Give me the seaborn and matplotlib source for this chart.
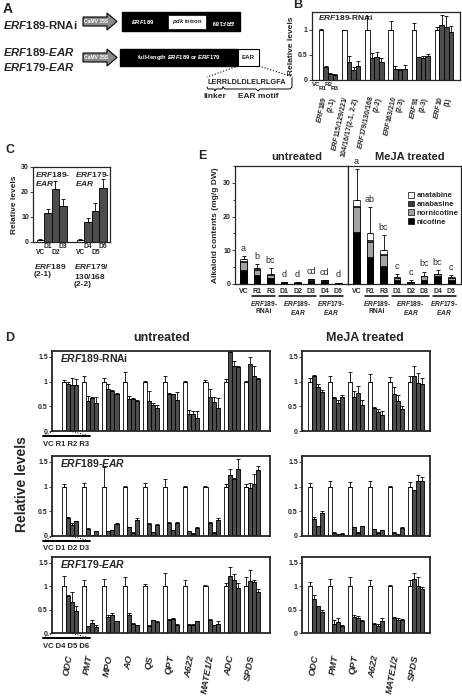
import numpy as np
import pandas as pd
import matplotlib
matplotlib.use("Agg")
import matplotlib.pyplot as plt
import seaborn as sns
from matplotlib.patches import Rectangle, Polygon, Patch

# ---------------- data ----------------
# B: ERF189-RNAi, expression of clade genes
b_genes = ["$ERF189$\n(2-1)", "$ERF115/129/221/$\n$104/16/17$(2-1, 2-2)", "$ERF179/130/168$\n(2-2)",
           "$ERF163/210$\n(2-3)", "$ERF91$\n(2-3)", "$ERF10$\n(1)"]
b_vals = [[1.0, 0.25, 0.12, 0.10], [1.0, 0.35, 0.20, 0.27], [1.0, 0.43, 0.45, 0.36],
          [1.0, 0.22, 0.20, 0.22], [1.0, 0.45, 0.44, 0.47], [1.0, 1.10, 1.05, 0.95]]
b_errs = [[0.02, 0.03, 0.01, 0.01], [0.0, 0.12, 0.05, 0.10], [0.28, 0.10, 0.10, 0.08],
          [0.17, 0.05, 0.02, 0.08], [0.13, 0.01, 0.03, 0.05], [0.05, 0.20, 0.22, 0.12]]

# C: EAR lines, transgene levels
c_groups = ["ERF189", "ERF179"]
c_vals = [[1.0, 11.5, 21.0, 14.5], [1.0, 8.0, 12.5, 21.5]]
c_errs = [[0.2, 1.5, 3.5, 2.5], [0.2, 1.5, 3.0, 3.5]]

# D: structural genes
genes_u = ["ODC", "PMT", "MPO", "AO", "QS", "QPT", "A622", "MATE1/2", "ADC", "SPDS"]
genes_m = ["ODC", "PMT", "QPT", "A622", "MATE1/2", "SPDS"]

rnai_u = [[1, 0.95, 0.93, 0.93], [1, 0.60, 0.67, 0.57], [1, 0.85, 0.80, 0.75], [1, 0.65, 0.65, 0.60],
          [1, 0.60, 0.52, 0.47], [1, 0.75, 0.74, 0.63], [1, 0.35, 0.35, 0.26], [1, 0.68, 0.58, 0.46],
          [1, 1.60, 1.32, 1.30], [1, 1.35, 1.12, 1.05]]
rnai_u_err = [[0.03, 0.05, 0.15, 0.12], [0.12, 0.10, 0.02, 0.12], [0.07, 0.10, 0.03, 0.01],
              [0.20, 0.05, 0.02, 0.03], [0.02, 0.20, 0.05, 0.05], [0.12, 0.02, 0.01, 0.15],
              [0.02, 0.08, 0.05, 0.15], [0.03, 0.17, 0.10, 0.20], [0.05, 0.02, 0.10, 0.01],
              [0.02, 0.15, 0.20, 0.02]]
rnai_m = [[1, 1.12, 0.90, 0.78], [1, 0.67, 0.57, 0.68], [1, 0.68, 0.77, 0.53],
          [1, 0.47, 0.38, 0.33], [1, 0.75, 0.60, 0.44], [1, 1.12, 0.97, 0.95]]
rnai_m_err = [[0.07, 0.02, 0.05, 0.05], [0.12, 0.02, 0.05, 0.05], [0.20, 0.12, 0.15, 0.10],
              [0.15, 0.01, 0.07, 0.08], [0.10, 0.15, 0.12, 0.07], [0.12, 0.20, 0.20, 0.12]]

ear189_u = [[1, 0.37, 0.22, 0.30], [1, 0.15, 0.02, 0.10], [1, 0.10, 0.12, 0.25], [1, 0.18, 0.07, 0.33],
            [1, 0.25, 0.08, 0.23], [1, 0.27, 0.12, 0.27], [1, 0.10, 0.05, 0.17], [1, 0.27, 0.07, 0.32],
            [1, 1.23, 1.16, 1.35], [1, 0.98, 1.05, 1.33]]
ear189_u_err = [[0.05, 0.01, 0.05, 0.01], [0.08, 0.01, 0.01, 0.01], [0.40, 0.01, 0.01, 0.01],
                [0.02, 0.01, 0.01, 0.03], [0.07, 0.01, 0.01, 0.01], [0.15, 0.01, 0.01, 0.01],
                [0.02, 0.01, 0.01, 0.01], [0.01, 0.01, 0.01, 0.04], [0.05, 0.12, 0.02, 0.20],
                [0.05, 0.10, 0.20, 0.08]]
ear189_m = [[1, 0.35, 0.20, 0.46], [1, 0.07, 0.03, 0.05], [1, 0.18, 0.07, 0.20],
            [1, 0.14, 0.07, 0.12], [1, 0.07, 0.03, 0.17], [1, 0.93, 1.12, 1.12]]
ear189_m_err = [[0.07, 0.04, 0.01, 0.04], [0.12, 0.01, 0.01, 0.01], [0.10, 0.01, 0.01, 0.01],
                [0.12, 0.01, 0.01, 0.01], [0.01, 0.01, 0.01, 0.01], [0.10, 0.01, 0.12, 0.08]]

ear179_u = [[1, 0.78, 0.67, 0.47], [1, 0.14, 0.22, 0.12], [1, 0.35, 0.38, 0.25], [1, 0.38, 0.20, 0.17],
            [1, 0.15, 0.27, 0.23], [1, 0.28, 0.30, 0.18], [1, 0.18, 0.18, 0.25], [1, 0.27, 0.17, 0.20],
            [1, 1.22, 1.13, 0.95], [1, 1.10, 1.08, 0.87]]
ear179_u_err = [[0.22, 0.03, 0.20, 0.10], [0.12, 0.01, 0.05, 0.05], [0.15, 0.03, 0.05, 0.01],
                [0.20, 0.05, 0.01, 0.01], [0.05, 0.01, 0.01, 0.03], [0.28, 0.01, 0.02, 0.01],
                [0.12, 0.01, 0.01, 0.01], [0.02, 0.03, 0.01, 0.05], [0.07, 0.18, 0.12, 0.12],
                [0.20, 0.25, 0.05, 0.07]]
ear179_m = [[1, 0.73, 0.57, 0.44], [1, 0.20, 0.23, 0.14], [1, 0.35, 0.33, 0.26],
            [1, 0.20, 0.15, 0.26], [1, 0.31, 0.28, 0.28], [1, 1.15, 1.00, 0.94]]
ear179_m_err = [[0.08, 0.07, 0.01, 0.04], [0.15, 0.07, 0.08, 0.03], [0.20, 0.03, 0.03, 0.02],
                [0.13, 0.01, 0.05, 0.05], [0.02, 0.03, 0.04, 0.01], [0.13, 0.13, 0.20, 0.05]]

# E: alkaloid contents (mg/g DW)
e_lines = ["VC", "R1", "R3", "D1", "D2", "D3", "D4", "D6"]
u_nicotine = [4.3, 2.8, 1.8, 0.5, 0.3, 0.8, 0.8, 0.3]
u_nornicotine = [2.3, 1.5, 0.8, 0.1, 0.1, 0.5, 0.3, 0.1]
u_anabasine = [0.2, 0.2, 0.1, 0.05, 0.02, 0.1, 0.05, 0.02]
u_anatabine = [0.5, 0.3, 0.4, 0.05, 0.03, 0.1, 0.05, 0.02]
u_err = [1.0, 1.1, 1.7, 0.0, 0.0, 0.0, 0.0, 0.0]
u_letters = ["a", "b", "bc", "d", "d", "cd", "cd", "d"]
m_nicotine = [15.5, 8.0, 5.2, 1.2, 0.4, 1.3, 2.3, 1.2]
m_nornicotine = [7.2, 4.5, 3.3, 0.6, 0.2, 1.0, 0.6, 0.6]
m_anabasine = [0.5, 0.5, 0.3, 0.1, 0.0, 0.1, 0.1, 0.1]
m_anatabine = [1.8, 2.0, 1.4, 0.1, 0.05, 0.1, 0.1, 0.1]
m_err = [9.0, 7.7, 4.3, 1.0, 0.4, 1.2, 1.1, 0.7]
m_letters = ["a", "ab", "bc", "c", "c", "bc", "bc", "c"]

# ---------------- style ----------------
sns.set_style("ticks")
plt.rcParams['font.family'] = ['Liberation Sans', 'DejaVu Sans']
plt.rcParams['font.weight'] = 'bold'
plt.rcParams['axes.labelweight'] = 'bold'
plt.rcParams['mathtext.fontset'] = 'custom'
plt.rcParams['mathtext.it'] = 'Liberation Sans:italic:bold'
plt.rcParams['mathtext.rm'] = 'Liberation Sans:bold'
plt.rcParams['mathtext.bf'] = 'Liberation Sans:bold'

W, H = 462, 697
DARK = "#4d4d4d"
fig = plt.figure(figsize=(W / 100, H / 100), dpi=100)

# overlay axes in pixel coordinates for annotations
fa = fig.add_axes([0, 0, 1, 1])
fa.set_xlim(0, W)
fa.set_ylim(H, 0)
fa.axis('off')
fa.patch.set_alpha(0)
fa.set_zorder(10)


def add_ax(x0, y0, x1, y1):
    return fig.add_axes([x0 / W, 1 - y1 / H, (x1 - x0) / W, (y1 - y0) / H])


def grouped(ax, groups, vals, errs, width=0.8, lw=0.6):
    levels = ["VC", "L1", "L2", "L3"]
    rows = [(g, l, v) for g, row in zip(groups, vals) for l, v in zip(levels, row)]
    df = pd.DataFrame(rows, columns=['grp', 'line', 'val'])
    pal = {"VC": "white", "L1": DARK, "L2": DARK, "L3": DARK}
    sns.barplot(data=df, x='grp', y='val', hue='line', order=groups, hue_order=levels,
                palette=pal, saturation=1, edgecolor='black', linewidth=lw, width=width,
                errorbar=None, legend=False, ax=ax)
    bars = list(ax.containers)
    centers = []
    for k, cont in enumerate(bars):
        xs = [p.get_x() + p.get_width() / 2 for p in cont.patches]
        hs = [p.get_height() for p in cont.patches]
        e = [row[k] for row in errs]
        ax.errorbar(xs, hs, yerr=[np.zeros(len(e)), e], fmt='none', ecolor='black',
                    elinewidth=0.6, capsize=1.3, capthick=0.6)
        centers.append(xs)
    ax.set_xlabel("")
    ax.set_ylabel("")
    return centers


def frame(ax, lw):
    for s in ax.spines.values():
        s.set_linewidth(lw)
        s.set_visible(True)


# ---------------- A ----------------
fa.text(3, 9, "A", fontsize=10, va='center')
fa.text(3, 25, "$ERF189$-RNAi", fontsize=8.2, va='center')
fa.text(3, 52, "$ERF189$-$EAR$", fontsize=8.2, va='center')
fa.text(3, 67, "$ERF179$-$EAR$", fontsize=8.2, va='center')


def promoter(yc):
    pts = [(83, yc - 4.5), (107, yc - 4.5), (107, yc - 8.5), (117, yc), (107, yc + 8.5),
           (107, yc + 4.5), (83, yc + 4.5)]
    fa.add_patch(Polygon(pts, closed=True, facecolor="#8a8a8a", edgecolor='black', lw=0.8))
    fa.text(96, yc, "CaMV 35S", fontsize=3.6, color='white', ha='center', va='center')


promoter(21.5)
fa.add_patch(Rectangle((122, 12), 118, 19, facecolor='black', edgecolor='black'))
fa.text(143, 22, "$ERF189$", fontsize=4.2, color='white', ha='center', va='center')
fa.add_patch(Rectangle((168, 14.5), 38, 14, facecolor='white', edgecolor='black', lw=0.5))
fa.text(187, 21.5, "$pdk$ intron", fontsize=4.2, ha='center', va='center')
fa.text(223, 21.5, "$ERF189$", fontsize=4.2, color='white', ha='center', va='center', rotation=180)

promoter(57.5)
fa.add_patch(Rectangle((120, 49), 118, 17, facecolor='black', edgecolor='black'))
fa.text(179, 57.5, "full-length $ERF189$ or $ERF179$", fontsize=4.2, color='white',
        ha='center', va='center')
fa.add_patch(Rectangle((238, 49), 21, 17, facecolor='white', edgecolor='black', lw=0.8))
fa.text(248.5, 57.5, "EAR", fontsize=4.5, ha='center', va='center')
fa.plot([238, 207], [66, 77], ls=':', color='black', lw=0.8)
fa.plot([259, 293], [66, 77], ls=':', color='black', lw=0.8)
fa.text(207, 83, "LERRLDLDLELRLGFA", fontsize=5.3, ha='left', va='center')
fa.plot([207, 208, 214, 215, 216, 222, 223], [87, 89, 89, 91, 89, 89, 87], color='black', lw=0.7)
fa.plot([223, 225, 256, 258, 260, 290, 292, 292],
        [87, 89, 89, 91, 89, 89, 87, 78], color='black', lw=0.7)
fa.text(215, 96, "linker", fontsize=6, ha='center', va='center')
fa.text(258, 96, "EAR motif", fontsize=6, ha='center', va='center')

# ---------------- B ----------------
fa.text(293, 5, "B", fontsize=9, va='center')
axb = add_ax(312, 12, 460, 80)
grouped(axb, b_genes, b_vals, b_errs, width=0.8, lw=0.6)
axb.set_ylim(0, 1.35)
axb.set_yticks([0, 0.5, 1])
axb.set_yticklabels(["0", "0.5", "1"])
axb.set_ylabel("Relative levels", fontsize=6, labelpad=2)
axb.tick_params(axis='y', labelsize=5, length=2, width=0.6, pad=1)
axb.tick_params(axis='x', length=0, labelsize=5, pad=12)
for t in axb.get_xticklabels():
    t.set_rotation(78)
    t.set_ha('right')
    t.set_rotation_mode('anchor')
    t.set_va('center')
frame(axb, 0.9)
fa.text(318, 18, "$ERF189$-RNAi", fontsize=6, va='center')
fa.text(316, 84, "VC", fontsize=4.5, ha='center', va='center')
fa.text(329, 84, "R2", fontsize=4.5, ha='center', va='center')
fa.text(323, 89, "R1", fontsize=4.5, ha='center', va='center')
fa.text(335, 89, "R3", fontsize=4.5, ha='center', va='center')

# ---------------- C ----------------
fa.text(5, 150, "C", fontsize=9, va='center')
axc = add_ax(33, 167, 110, 242)
cc = grouped(axc, c_groups, c_vals, c_errs, width=0.75, lw=0.6)
axc.set_ylim(0, 30)
axc.set_yticks([0, 10, 20, 30])
axc.set_ylabel("Relative levels", fontsize=6, labelpad=2)
axc.tick_params(axis='y', labelsize=5, length=2, width=0.6, pad=1)
axc.tick_params(axis='x', length=0, labelbottom=False)
frame(axc, 0.9)
fa.text(35, 170, "$ERF189$-\n$EAR$", fontsize=6, va='top', linespacing=1.0)
fa.text(75, 170, "$ERF179$-\n$EAR$", fontsize=6, va='top', linespacing=1.0)
c_tags = [["VC", "D1", "D2", "D3"], ["VC", "D4", "D5", "D6"]]
for k in range(4):
    for g in range(2):
        xd = cc[k][g]
        xp = axc.transData.transform((xd, 0))[0]
        fa.text(xp, 252 if k % 2 == 0 else 247, c_tags[g][k], fontsize=4.8,
                ha='center', va='center')
fa.text(34, 262, "$ERF189$\n(2-1)", fontsize=6, va='top', linespacing=1.1)
fa.text(74, 262, "$ERF179/$\n$130/168$\n(2-2)", fontsize=6, va='top', linespacing=1.1)

# ---------------- E ----------------
fa.text(198, 156, "E", fontsize=9, va='center')
axeu = add_ax(235, 166, 348, 284)
axem = add_ax(348, 166, 461, 284)
e_cols = ["black", "#a3a3a3", "#3a3a3a", "white"]


def stacked(ax, layers, err, letters):
    cum = np.cumsum(np.array(layers, dtype=float), axis=0)
    for k in range(3, -1, -1):
        sns.barplot(x=e_lines, y=cum[k], color=e_cols[k], saturation=1, edgecolor='black',
                    linewidth=0.5, width=0.5, ax=ax)
    xs = [p.get_x() + p.get_width() / 2 for p in ax.patches[:len(e_lines)]]
    ax.errorbar(xs, cum[3], yerr=[np.zeros(len(err)), err], fmt='none', ecolor='black',
                elinewidth=0.6, capsize=1.5, capthick=0.6)
    for x, top, lab in zip(xs, cum[3] + np.array(err), letters):
        ax.text(x, top + 0.9, lab, ha='center', va='bottom', fontsize=6.5, fontweight='normal')
    ax.set_ylim(0, 35)
    ax.tick_params(axis='x', length=0, labelsize=5, pad=3)
    frame(ax, 0.9)


stacked(axeu, [u_nicotine, u_nornicotine, u_anabasine, u_anatabine], u_err, u_letters)
stacked(axem, [m_nicotine, m_nornicotine, m_anabasine, m_anatabine], m_err, m_letters)
axeu.set_yticks([0, 10, 20, 30])
axeu.set_yticks([5, 15, 25, 35], minor=True)
axeu.tick_params(axis='y', labelsize=5, length=2, width=0.6, pad=1)
axeu.tick_params(axis='y', which='minor', length=1.5, width=0.6)
axeu.set_ylabel("Alkaloid contents (mg/g DW)", fontsize=6, labelpad=3)
axem.tick_params(axis='y', left=False, labelleft=False)
axem.set_yticks([])
fa.text(297, 157, "untreated", fontsize=8, ha='center', va='center')
fa.text(410, 157, "MeJA treated", fontsize=8, ha='center', va='center')
e_groups = [(1, 2, "$ERF189$-\nRNAi"), (3, 5, "$ERF189$-\n$EAR$"), (6, 7, "$ERF179$-\n$EAR$")]
for ax in (axeu, axem):
    tr = ax.get_xaxis_transform()
    for a, b, lab in e_groups:
        ax.plot([a - 0.35, b + 0.35], [-0.1, -0.1], color='black', lw=1.1, transform=tr, clip_on=False)
        ax.text((a + b) / 2, -0.13, lab, transform=tr, fontsize=4.8, ha='center', va='top',
                linespacing=1.0)
axem.legend(handles=[Patch(facecolor=c, edgecolor='black', lw=0.5) for c in e_cols[::-1]],
            labels=["anatabine", "anabasine", "nornicotine", "nicotine"],
            loc='upper left', bbox_to_anchor=(404 / W, 1 - 188 / H), bbox_transform=fig.transFigure,
            frameon=False, fontsize=5.5, handlelength=0.8, handleheight=0.8,
            handletextpad=0.4, labelspacing=0.15, borderpad=0)

# ---------------- D ----------------
fa.text(5, 338, "D", fontsize=9, va='center')
fa.text(162, 338, "untreated", fontsize=9, ha='center', va='center')
fa.text(365, 338, "MeJA treated", fontsize=9, ha='center', va='center')
fa.text(22, 484, "Relative levels", fontsize=10, rotation=90, ha='center', va='center')

rows_y = [(351, 431), (456, 536), (557, 633)]
d_data = [(rnai_u, rnai_u_err, rnai_m, rnai_m_err),
          (ear189_u, ear189_u_err, ear189_m, ear189_m_err),
          (ear179_u, ear179_u_err, ear179_m, ear179_m_err)]
row_titles = ["$ERF189$-RNAi", "$ERF189$-$EAR$", "$ERF179$-$EAR$"]
row_tags = ["VC R1 R2 R3", "VC D1 D2 D3", "VC D4 D5 D6"]

for r, ((y0, y1), (uv, ue, mv, me)) in enumerate(zip(rows_y, d_data)):
    axu = add_ax(52, y0, 270, y1)
    axm = add_ax(302, y0, 430, y1)
    grouped(axu, genes_u, uv, ue, width=0.8, lw=0.6)
    grouped(axm, genes_m, mv, me, width=0.8, lw=0.6)
    for ax in (axu, axm):
        ax.set_ylim(0, 1.62)
        ax.set_yticks([0, 0.5, 1, 1.5])
        ax.set_yticklabels(["0", "0.5", "1", "1.5"])
        ax.tick_params(axis='y', labelsize=5, length=2, width=0.6, pad=1)
        ax.tick_params(axis='x', length=0)
        frame(ax, 1.3)
        if r < 2:
            ax.tick_params(axis='x', labelbottom=False)
        else:
            ax.tick_params(axis='x', labelsize=6.8, pad=16)
            for t in ax.get_xticklabels():
                t.set_rotation(80)
                t.set_ha('right')
                t.set_va('center')
                t.set_rotation_mode('anchor')
                t.set_fontstyle('italic')
    fa.text(60, y0 + 7, row_titles[r], fontsize=7.5, va='center')
    ly = y1 + 5
    fa.plot([43, 90], [ly, ly], color='black', lw=1.4)
    fa.plot([53, 44], [y1, ly], ls=':', color='black', lw=0.7)
    fa.plot([70, 90], [y1, ly], ls=':', color='black', lw=0.7)
    fa.text(43, ly + 8, row_tags[r], fontsize=5.5, ha='left', va='center')

fig.savefig("out.png", dpi=100)
